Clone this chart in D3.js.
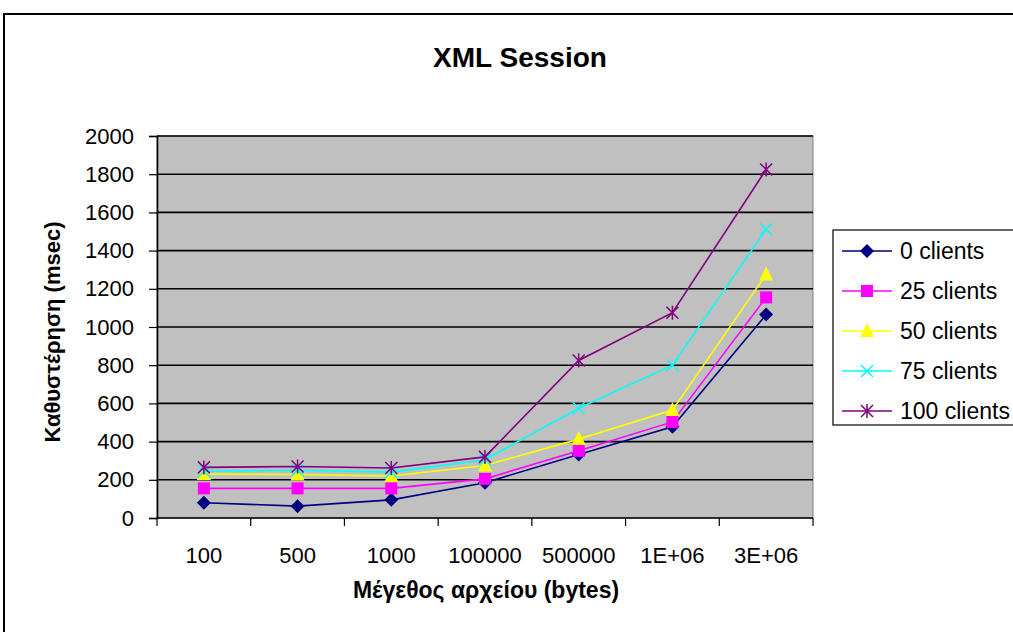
<!DOCTYPE html>
<html>
<head>
<meta charset="utf-8">
<script src="https://cdn.jsdelivr.net/npm/d3@7"></script>
<style>
  html, body { margin: 0; padding: 0; background: #fff; }
  svg { display: block; font-family: "Liberation Sans", Arial, sans-serif; }
</style>
</head>
<body>
<svg id="chart" width="1013" height="632"></svg>
<script>
// File sizes (bytes) on the x axis
const categories = ["100", "500", "1000", "100000", "500000", "1E+06", "3E+06"];
// Latency in msec for each client load
const clients0   = [80, 62, 95, 185, 332, 478, 1065];
const clients25  = [155, 155, 155, 205, 352, 503, 1155];
const clients50  = [230, 228, 220, 275, 413, 565, 1275];
const clients75  = [245, 250, 240, 305, 575, 800, 1512];
const clients100 = [265, 270, 262, 320, 825, 1075, 1825];
const seriesNames = ["0 clients", "25 clients", "50 clients", "75 clients", "100 clients"];
const yTicks = [0, 200, 400, 600, 800, 1000, 1200, 1400, 1600, 1800, 2000];

const series = [
  { name: seriesNames[0], values: clients0,   color: "#000080", marker: "diamond" },
  { name: seriesNames[1], values: clients25,  color: "#FF00FF", marker: "square" },
  { name: seriesNames[2], values: clients50,  color: "#FFFF00", marker: "triangle" },
  { name: seriesNames[3], values: clients75,  color: "#00FFFF", marker: "x" },
  { name: seriesNames[4], values: clients100, color: "#800080", marker: "star" }
];

const svg = d3.select("#chart");
const plot = { left: 157, right: 813, top: 136, bottom: 518 };

// Outer chart frame
svg.append("rect")
  .attr("x", 4).attr("y", 14).attr("width", 1030).attr("height", 640)
  .attr("fill", "#fff").attr("stroke", "#000").attr("stroke-width", 2);

const x = d3.scaleBand().domain(categories).range([plot.left, plot.right]);
const y = d3.scaleLinear().domain([0, 2000]).range([plot.bottom, plot.top]);

// Plot area
svg.append("rect")
  .attr("x", plot.left).attr("y", plot.top)
  .attr("width", plot.right - plot.left).attr("height", plot.bottom - plot.top)
  .attr("fill", "#C0C0C0").attr("stroke", "#808080").attr("stroke-width", 1);

// Horizontal gridlines
svg.append("g").selectAll("line").data(yTicks.filter(d => d > 0)).join("line")
  .attr("x1", plot.left).attr("x2", plot.right)
  .attr("y1", d => y(d)).attr("y2", d => y(d))
  .attr("stroke", "#000").attr("stroke-width", 1.6);

// Y axis
const yAxis = svg.append("g")
  .attr("transform", `translate(${plot.left},0)`)
  .call(d3.axisLeft(y).tickValues(yTicks).tickSize(8).tickPadding(15).tickFormat(d3.format("d")));
yAxis.select(".domain").attr("stroke", "#000").attr("stroke-width", 1.6);
yAxis.selectAll(".tick line").attr("stroke", "#000").attr("stroke-width", 1.2);
yAxis.selectAll("text").attr("font-size", 22).attr("fill", "#000")
  .attr("font-family", "Liberation Sans, Arial, sans-serif");

// X axis with ticks on category boundaries
const xAxisG = svg.append("g").attr("transform", `translate(0,${plot.bottom})`);
xAxisG.append("line")
  .attr("x1", plot.left).attr("x2", plot.right)
  .attr("stroke", "#000").attr("stroke-width", 1.6);
const boundaries = categories.map(c => x(c)).concat([plot.right]);
xAxisG.selectAll("line.tk").data(boundaries).join("line").attr("class", "tk")
  .attr("x1", d => d).attr("x2", d => d).attr("y1", 0).attr("y2", 8)
  .attr("stroke", "#000").attr("stroke-width", 1.2);
xAxisG.selectAll("text").data(categories).join("text")
  .attr("x", d => x(d) + x.bandwidth() / 2).attr("y", 45)
  .attr("text-anchor", "middle").attr("font-size", 22).attr("fill", "#000")
  .text(d => d);

// Titles
svg.append("text").attr("x", 520).attr("y", 67).attr("text-anchor", "middle")
  .attr("font-size", 28).attr("font-weight", "bold").text("XML Session");
svg.append("text").attr("x", 486).attr("y", 598).attr("text-anchor", "middle")
  .attr("font-size", 23).attr("font-weight", "bold").text("Μέγεθος αρχείου (bytes)");
svg.append("text")
  .attr("transform", `translate(60,332) rotate(-90)`)
  .attr("text-anchor", "middle").attr("font-size", 22).attr("font-weight", "bold")
  .text("Καθυστέρηση (msec)");

// Marker drawing
function drawMarker(g, type, color, cx, cy) {
  if (type === "diamond") {
    g.append("path").attr("d", `M${cx},${cy - 7}L${cx + 7},${cy}L${cx},${cy + 7}L${cx - 7},${cy}Z`)
      .attr("fill", color);
  } else if (type === "square") {
    g.append("rect").attr("x", cx - 6).attr("y", cy - 6).attr("width", 12).attr("height", 12)
      .attr("fill", color);
  } else if (type === "triangle") {
    g.append("path").attr("d", `M${cx},${cy - 8}L${cx + 7},${cy + 6}L${cx - 7},${cy + 6}Z`)
      .attr("fill", color);
  } else if (type === "x") {
    g.append("path").attr("d", `M${cx - 6},${cy - 6}L${cx + 6},${cy + 6}M${cx - 6},${cy + 6}L${cx + 6},${cy - 6}`)
      .attr("stroke", color).attr("stroke-width", 1.5).attr("fill", "none");
  } else if (type === "star") {
    g.append("path").attr("d", `M${cx - 6},${cy - 6}L${cx + 6},${cy + 6}M${cx - 6},${cy + 6}L${cx + 6},${cy - 6}M${cx},${cy - 7}L${cx},${cy + 7}`)
      .attr("stroke", color).attr("stroke-width", 1.5).attr("fill", "none");
  }
}

const line = d3.line()
  .x((d, i) => x(categories[i]) + x.bandwidth() / 2)
  .y(d => y(d));

series.forEach(s => {
  const g = svg.append("g");
  g.append("path").datum(s.values).attr("d", line)
    .attr("fill", "none").attr("stroke", s.color).attr("stroke-width", 1.6);
  s.values.forEach((v, i) => {
    drawMarker(g, s.marker, s.color, x(categories[i]) + x.bandwidth() / 2, y(v));
  });
});

// Legend
const legend = svg.append("g");
legend.append("rect").attr("x", 833).attr("y", 230).attr("width", 185).attr("height", 195)
  .attr("fill", "#fff").attr("stroke", "#000").attr("stroke-width", 1.2);
series.forEach((s, i) => {
  const ly = 251 + i * 40;
  legend.append("line").attr("x1", 842).attr("x2", 892).attr("y1", ly).attr("y2", ly)
    .attr("stroke", s.color).attr("stroke-width", 1.5);
  drawMarker(legend, s.marker, s.color, 867, ly);
  legend.append("text").attr("x", 900).attr("y", ly + 8).attr("font-size", 23)
    .attr("fill", "#000").text(s.name);
});
</script>
</body>
</html>
